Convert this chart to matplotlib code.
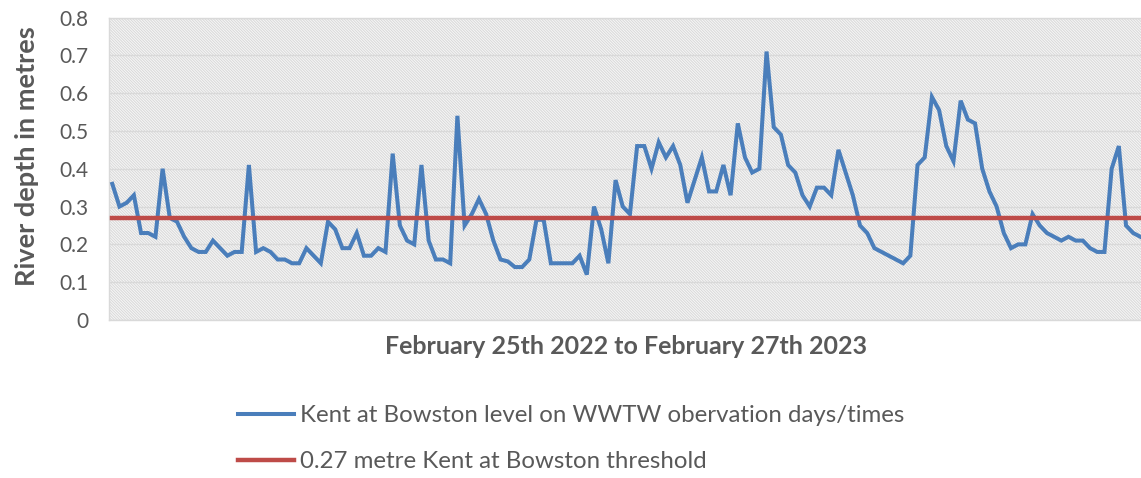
import matplotlib
matplotlib.use("Agg")
import matplotlib.pyplot as plt
from matplotlib.lines import Line2D
from matplotlib.patches import Rectangle

plt.rcParams['font.family'] = ['Lato', 'DejaVu Sans']
plt.rcParams['hatch.linewidth'] = 0.7

# River level on WWTW observation days (metres)
levels = [
    0.36, 0.30, 0.31, 0.33, 0.23, 0.23, 0.22, 0.40, 0.27, 0.26,
    0.22, 0.19, 0.18, 0.18, 0.21, 0.19, 0.17, 0.18, 0.18, 0.41,
    0.18, 0.19, 0.18, 0.16, 0.16, 0.15, 0.15, 0.19, 0.17, 0.15,
    0.26, 0.24, 0.19, 0.19, 0.23, 0.17, 0.17, 0.19, 0.18, 0.44,
    0.25, 0.21, 0.20, 0.41, 0.21, 0.16, 0.16, 0.15, 0.54, 0.25,
    0.28, 0.32, 0.28, 0.21, 0.16, 0.155, 0.14, 0.14, 0.16, 0.265,
    0.265, 0.15, 0.15, 0.15, 0.15, 0.17, 0.12, 0.30, 0.24, 0.15,
    0.37, 0.30, 0.28, 0.46, 0.46, 0.40, 0.47, 0.43, 0.46, 0.41,
    0.31, 0.37, 0.43, 0.34, 0.34, 0.41, 0.33, 0.52, 0.43, 0.39,
    0.40, 0.71, 0.51, 0.49, 0.41, 0.39, 0.33, 0.30, 0.35, 0.35,
    0.33, 0.45, 0.39, 0.33, 0.25, 0.23, 0.19, 0.18, 0.17, 0.16,
    0.15, 0.17, 0.41, 0.43, 0.59, 0.555, 0.46, 0.42, 0.58, 0.53,
    0.52, 0.40, 0.34, 0.30, 0.23, 0.19, 0.20, 0.20, 0.28, 0.25,
    0.23, 0.22, 0.21, 0.22, 0.21, 0.21, 0.19, 0.18, 0.18, 0.40,
    0.46, 0.25, 0.23, 0.22,
]
threshold_value = 0.27
threshold = [threshold_value] * len(levels)

series_label = "Kent at Bowston level on WWTW obervation days/times"
threshold_label = "0.27 metre Kent at Bowston threshold"
x_title = "February 25th 2022 to February 27th 2023"
y_title = "River depth in metres"
y_ticks = [0, 0.1, 0.2, 0.3, 0.4, 0.5, 0.6, 0.7, 0.8]
y_tick_labels = ["0", "0.1", "0.2", "0.3", "0.4", "0.5", "0.6", "0.7", "0.8"]

W, H = 1141, 478
fig = plt.figure(figsize=(W / 100, H / 100), dpi=100)
left, right, top, bottom = 108.7, 1144.0, 17.5, 320.0
ax = fig.add_axes([left / W, 1 - bottom / H, (right - left) / W, (bottom - top) / H])

# patterned plot-area fill
ax.add_patch(Rectangle((0, 0), 1, 1, transform=ax.transAxes, facecolor='#f7f7f7',
                       edgecolor='#d8d8d8', hatch='\\' * 12, linewidth=0,
                       zorder=0))

n = len(levels)
xs = list(range(n))
blue = '#4a7ebb'
red = '#be4b48'
ax.plot(xs, levels, color=blue, lw=2.9, solid_joinstyle='miter', zorder=3)
ax.plot(xs, threshold, color=red, lw=3.2, zorder=4)

ax.set_xlim(-0.5, n - 0.5)
ax.set_ylim(0, 0.8)
ax.set_yticks(y_ticks)
ax.set_yticklabels(y_tick_labels)
ax.set_xticks([])
ax.yaxis.grid(True, color='#d9d9d9', lw=1.0, zorder=1)
ax.set_axisbelow(True)
ax.tick_params(axis='y', length=0, pad=14.5, labelsize=15, labelcolor='#595959')
for s in ax.spines.values():
    s.set_color('#d9d9d9')
    s.set_linewidth(1.0)

fig.text(27 / W, 1 - 156 / H, y_title, rotation=90, ha='center', va='center',
         fontsize=19.5, fontweight='bold', color='#595959')
fig.text(626 / W, 1 - 346 / H, x_title, ha='center', va='center',
         fontsize=18, fontweight='bold', color='#595959')

handles = [Line2D([], [], color=blue, lw=2.9), Line2D([], [], color=red, lw=3.2)]
fig.legend(handles, [series_label, threshold_label], loc='upper left',
           bbox_to_anchor=(238 / W, 1 - 405 / H), frameon=False,
           borderpad=0, borderaxespad=0, handlelength=2.35, handletextpad=0.25,
           labelspacing=1.05, fontsize=17.3, labelcolor='#595959')

fig.savefig('out.png', dpi=100)
